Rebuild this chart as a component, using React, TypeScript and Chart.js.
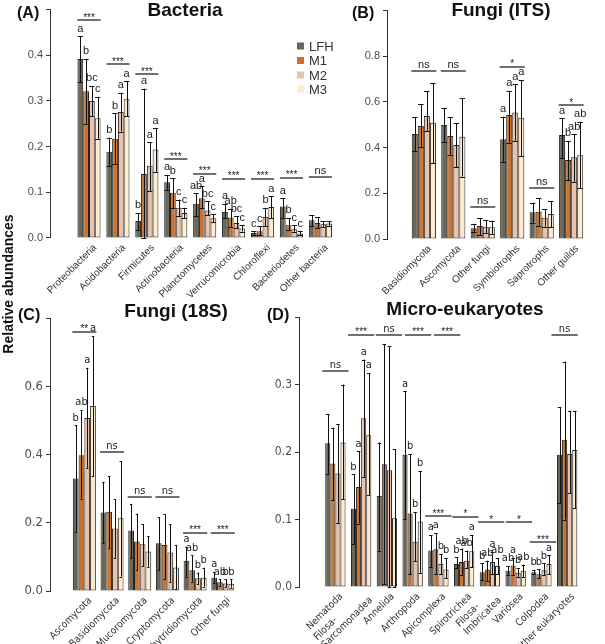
import { useEffect, useRef } from 'react';
import { Chart, registerables } from 'chart.js';
Chart.register(...registerables);

const SERIES = ['LFH', 'M1', 'M2', 'M3'];
const COLORS = ['#6b6656', '#c8742f', '#ecc1a9', '#fdeccd'];

// ---------- (A) Bacteria ----------
const bacteriaGroups = ['Proteobacteria', 'Acidobacteria', 'Firmicutes', 'Actinobacteria', 'Planctomycetes', 'Verrucomicrobia', 'Chloroflexi', 'Bacteriodetes', 'Other bacteria'];
const bacteriaMean = [
  [0.392, 0.321, 0.300, 0.262],
  [0.189, 0.217, 0.276, 0.304],
  [0.037, 0.140, 0.158, 0.194],
  [0.122, 0.099, 0.066, 0.055],
  [0.075, 0.087, 0.060, 0.043],
  [0.057, 0.045, 0.033, 0.021],
  [0.011, 0.015, 0.046, 0.068],
  [0.069, 0.028, 0.019, 0.010],
  [0.039, 0.033, 0.030, 0.032],
];
const bacteriaUpper = [
  [0.442, 0.392, 0.333, 0.309],
  [0.220, 0.273, 0.318, 0.343],
  [0.055, 0.327, 0.210, 0.240],
  [0.138, 0.131, 0.084, 0.066],
  [0.098, 0.113, 0.081, 0.052],
  [0.075, 0.064, 0.048, 0.028],
  [0.015, 0.026, 0.066, 0.091],
  [0.087, 0.044, 0.028, 0.015],
  [0.050, 0.046, 0.037, 0.037],
];
const bacteriaLower = [
  [0.341, 0.249, 0.266, 0.217],
  [0.158, 0.163, 0.233, 0.266],
  [0.017, 0.000, 0.102, 0.145],
  [0.104, 0.066, 0.048, 0.044],
  [0.048, 0.066, 0.050, 0.035],
  [0.043, 0.024, 0.021, 0.014],
  [0.007, 0.006, 0.026, 0.043],
  [0.043, 0.017, 0.014, 0.006],
  [0.026, 0.022, 0.024, 0.027],
];
const bacteriaLetters = [
  ['a', 'b', 'bc', 'c'],
  ['b', 'b', 'a', 'a'],
  ['b', 'a', 'a', 'a'],
  ['a', 'b', 'c', 'c'],
  ['ab', 'a', 'bc', 'c'],
  ['a', 'ab', 'bc', 'c'],
  ['c', 'c', 'b', 'a'],
  ['a', 'b', 'c', 'c'],
  ['', '', '', ''],
];
const bacteriaSigAt = [0, 1, 2, 3, 4, 5, 6, 7, 8];
const bacteriaSigLevel = [0.477, 0.380, 0.358, 0.172, 0.141, 0.130, 0.130, 0.132, 0.134];
const bacteriaSigText = ['***', '***', '***', '***', '***', '***', '***', '***', 'ns'];
const bacteriaTicks = [0, 0.1, 0.2, 0.3, 0.4, 0.5];

// ---------- (B) Fungi (ITS) ----------
const itsGroups = ['Basidiomycota', 'Ascomycota', 'Other fungi', 'Symbiotrophs', 'Saprotrophs', 'Other guilds'];
const itsMean = [
  [0.460, 0.495, 0.538, 0.509],
  [0.499, 0.451, 0.411, 0.448],
  [0.047, 0.057, 0.054, 0.051],
  [0.436, 0.543, 0.554, 0.531],
  [0.117, 0.119, 0.093, 0.109],
  [0.455, 0.346, 0.358, 0.366],
];
const itsUpper = [
  [0.533, 0.589, 0.648, 0.681],
  [0.572, 0.533, 0.506, 0.616],
  [0.066, 0.091, 0.083, 0.080],
  [0.535, 0.649, 0.677, 0.696],
  [0.159, 0.178, 0.130, 0.166],
  [0.528, 0.430, 0.458, 0.513],
];
const itsLower = [
  [0.385, 0.404, 0.473, 0.331],
  [0.426, 0.368, 0.314, 0.273],
  [0.032, 0.018, 0.025, 0.020],
  [0.338, 0.421, 0.430, 0.363],
  [0.071, 0.058, 0.054, 0.051],
  [0.353, 0.258, 0.251, 0.222],
];
const itsLetters = [
  ['', '', '', ''],
  ['', '', '', ''],
  ['', '', '', ''],
  ['a', 'a', 'a', 'a'],
  ['', '', '', ''],
  ['a', 'b', 'ab', 'ab'],
];
const itsSigAt = [0, 1, 2, 3, 4, 5];
const itsSigLevel = [0.735, 0.735, 0.139, 0.754, 0.225, 0.586];
const itsSigText = ['ns', 'ns', 'ns', '*', 'ns', '*'];
const itsTicks = [0, 0.2, 0.4, 0.6, 0.8, 1.0];

// ---------- (C) Fungi (18S) ----------
const f18Groups = ['Ascomycota', 'Basidiomycota', 'Mucoromycota', 'Cryptomycota', 'Chytridiomycota', 'Other fungi'];
const f18Mean = [
  [0.330, 0.398, 0.507, 0.542],
  [0.230, 0.232, 0.183, 0.213],
  [0.177, 0.145, 0.137, 0.116],
  [0.140, 0.135, 0.113, 0.069],
  [0.089, 0.061, 0.037, 0.039],
  [0.039, 0.026, 0.022, 0.021],
];
const f18Upper = [
  [0.486, 0.530, 0.654, 0.747],
  [0.320, 0.337, 0.269, 0.380],
  [0.255, 0.227, 0.195, 0.161],
  [0.216, 0.225, 0.196, 0.135],
  [0.130, 0.105, 0.054, 0.068],
  [0.056, 0.034, 0.034, 0.034],
];
const f18Lower = [
  [0.174, 0.271, 0.361, 0.337],
  [0.141, 0.127, 0.097, 0.042],
  [0.096, 0.061, 0.073, 0.071],
  [0.061, 0.034, 0.027, 0.005],
  [0.042, 0.027, 0.020, 0.013],
  [0.024, 0.015, 0.012, 0.010],
];
const f18Letters = [
  ['b', 'ab', 'a', 'a'],
  ['', '', '', ''],
  ['', '', '', ''],
  ['', '', '', ''],
  ['a', 'ab', 'b', 'b'],
  ['a', 'ab', 'b', 'b'],
];
const f18SigAt = [0, 1, 2, 3, 4, 5];
const f18SigLevel = [0.759, 0.408, 0.274, 0.274, 0.171, 0.171];
const f18SigText = ['**', 'ns', 'ns', 'ns', '***', '***'];
const f18Ticks = [0, 0.2, 0.4, 0.6, 0.8];

// ---------- (D) Micro-eukaryotes ----------
const eukGroups = ['Nematoda', 'Filosa-\nSarcomonadea', 'Annelida', 'Arthropoda', 'Apicomplexa', 'Spirotrichea', 'Filosa-\nImbricatea', 'Variosea', 'Colpodea', 'Other eukaryotes'];
const eukMean = [
  [0.213, 0.183, 0.168, 0.214],
  [0.116, 0.148, 0.250, 0.225],
  [0.135, 0.182, 0.173, 0.102],
  [0.196, 0.109, 0.067, 0.097],
  [0.054, 0.056, 0.034, 0.026],
  [0.034, 0.037, 0.039, 0.053],
  [0.022, 0.026, 0.037, 0.031],
  [0.024, 0.032, 0.021, 0.024],
  [0.022, 0.019, 0.025, 0.034],
  [0.196, 0.218, 0.197, 0.203],
];
const eukUpper = [
  [0.256, 0.236, 0.241, 0.300],
  [0.167, 0.201, 0.337, 0.317],
  [0.214, 0.360, 0.357, 0.204],
  [0.290, 0.197, 0.111, 0.172],
  [0.077, 0.080, 0.049, 0.043],
  [0.044, 0.057, 0.054, 0.077],
  [0.035, 0.039, 0.052, 0.043],
  [0.031, 0.043, 0.028, 0.033],
  [0.025, 0.026, 0.035, 0.047],
  [0.266, 0.334, 0.261, 0.261],
];
const eukLower = [
  [0.168, 0.129, 0.095, 0.130],
  [0.063, 0.094, 0.163, 0.136],
  [0.054, 0.004, 0.000, 0.000],
  [0.101, 0.019, 0.038, 0.021],
  [0.030, 0.019, 0.019, 0.013],
  [0.028, 0.018, 0.028, 0.029],
  [0.010, 0.009, 0.019, 0.019],
  [0.018, 0.018, 0.015, 0.015],
  [0.019, 0.013, 0.018, 0.019],
  [0.125, 0.100, 0.139, 0.117],
];
const eukLetters = [
  ['', '', '', ''],
  ['b', 'a', 'a', 'a'],
  ['', '', '', ''],
  ['a', 'b', 'b', 'b'],
  ['a', 'a', 'b', 'b'],
  ['b', 'ab', 'ab', 'a'],
  ['b', 'ab', 'a', 'ab'],
  ['ab', 'a', 'b', 'ab'],
  ['b', 'b', 'b', 'a'],
  ['', '', '', ''],
];
const eukSigAt = [0, 1, 2.08, 3.21, 4.34, 4, 5.05, 6.05, 7.13, 8.06, 8.9];
const eukSigLevel = [0.320, 0.374, 0.374, 0.374, 0.374, 0.105, 0.104, 0.096, 0.096, 0.066, 0.373];
const eukSigText = ['ns', '***', 'ns', '***', '***', '***', '*', '*', '*', '***', 'ns'];
const eukTicks = [0, 0.1, 0.2, 0.3, 0.4];

const SANS = '"Liberation Sans", Arial, sans-serif';
const NARROW = '"Liberation Sans Narrow", "DejaVu Sans Condensed", "Liberation Sans", sans-serif';

type Panel = {
  key: string;
  groups: string[];
  mean: number[][];
  upper: number[][];
  lower: number[][];
  letters: string[][];
  sigAt: number[];
  sigLevel: number[];
  sigText: string[];
  ticks: number[];
  area: { l: number; t: number; r: number; b: number };
  xMin: number;
  xMax: number;
  catPct: number;
  capFrac: number;
  sigWidth: number;
  tickFont: string;
  tickSize: number;
  labelFont: string;
  title: string;
  titlePos: [number, number];
  tag: string;
  tagPos: [number, number];
  extra?: (ctx: CanvasRenderingContext2D) => void;
};

function drawLegend(ctx: CanvasRenderingContext2D) {
  const ys = [46, 60.5, 75, 89];
  ctx.font = '13px ' + SANS;
  ctx.textAlign = 'left';
  ctx.textBaseline = 'middle';
  SERIES.forEach((s, i) => {
    ctx.fillStyle = COLORS[i];
    ctx.fillRect(297, ys[i] - 3.5, 7, 7);
    ctx.fillStyle = '#333';
    ctx.fillText(s, 309, ys[i] + 1);
  });
}

function drawYTitle(ctx: CanvasRenderingContext2D) {
  ctx.save();
  ctx.translate(9, 284);
  ctx.rotate(-Math.PI / 2);
  ctx.font = 'bold 14px ' + SANS;
  ctx.fillStyle = '#111';
  ctx.textAlign = 'center';
  ctx.textBaseline = 'middle';
  ctx.fillText('Relative abundances', 0, 0);
  ctx.restore();
}

function annotPlugin(p: Panel) {
  return {
    id: 'annot_' + p.key,
    afterDatasetsDraw(chart: any) {
      const ctx: CanvasRenderingContext2D = chart.ctx;
      const xs = chart.scales.x;
      const ys = chart.scales.y;
      const area = chart.chartArea;
      ctx.save();
      const hl = (x1: number, x2: number, y: number) => {
        const yy = Math.round(y) + 0.5;
        ctx.beginPath();
        ctx.moveTo(x1, yy);
        ctx.lineTo(x2, yy);
        ctx.stroke();
      };
      const vl = (x: number, y1: number, y2: number) => {
        const xx = Math.round(x) + 0.5;
        ctx.beginPath();
        ctx.moveTo(xx, y1);
        ctx.lineTo(xx, y2);
        ctx.stroke();
      };
      // error bars
      ctx.strokeStyle = '#111';
      ctx.lineWidth = 1;
      const letterSpots: { t: string; x: number; y: number }[] = [];
      for (let si = 0; si < SERIES.length; si++) {
        const meta = chart.getDatasetMeta(si);
        meta.data.forEach((bar: any, gi: number) => {
          const cx = bar.x;
          const w = bar.width;
          const cw = w * p.capFrac;
          const yh = ys.getPixelForValue(p.upper[gi][si]);
          const yl = ys.getPixelForValue(p.lower[gi][si]);
          vl(cx, yl, yh);
          hl(cx - cw / 2, cx + cw / 2, yh);
          hl(cx - cw / 2, cx + cw / 2, yl);
          const t = p.letters[gi][si];
          if (t) letterSpots.push({ t, x: cx, y: yh - 2 });
        });
      }
      ctx.fillStyle = '#222';
      ctx.font = '11px ' + p.labelFont;
      ctx.textAlign = 'center';
      ctx.textBaseline = 'bottom';
      letterSpots.forEach((l) => ctx.fillText(l.t, l.x, l.y));

      // significance lines
      ctx.lineWidth = 1.3;
      ctx.strokeStyle = '#222';
      p.sigAt.forEach((c, i) => {
        const x1 = xs.getPixelForValue(c - p.sigWidth / 2);
        const x2 = xs.getPixelForValue(c + p.sigWidth / 2);
        const y = ys.getPixelForValue(p.sigLevel[i]);
        ctx.beginPath();
        ctx.moveTo(x1, Math.round(y));
        ctx.lineTo(x2, Math.round(y));
        ctx.stroke();
        const txt = p.sigText[i];
        ctx.fillStyle = '#222';
        ctx.textAlign = 'center';
        ctx.textBaseline = 'alphabetic';
        if (txt === 'ns') {
          ctx.font = '11px ' + p.labelFont;
          ctx.fillText(txt, (x1 + x2) / 2, y - 3);
        } else {
          ctx.font = '10px ' + SANS;
          ctx.fillText(txt, (x1 + x2) / 2, y + 0.5);
        }
      });

      // category labels
      ctx.fillStyle = '#333';
      ctx.font = '10px ' + p.labelFont;
      p.groups.forEach((g, gi) => {
        const ax = xs.getPixelForValue(gi) + 6;
        const ay = area.bottom + 8;
        const lines = g.split('\n');
        ctx.save();
        ctx.translate(ax, ay);
        ctx.rotate(-Math.PI / 4);
        ctx.textBaseline = 'middle';
        if (lines.length === 1) {
          ctx.textAlign = 'right';
          ctx.fillText(g, 0, 0);
        } else {
          const W = Math.max(...lines.map((l) => ctx.measureText(l).width));
          ctx.textAlign = 'left';
          lines.forEach((l, k) => ctx.fillText(l, -W, (k - (lines.length - 1) / 2) * 11));
        }
        ctx.restore();
      });

      // title + tag
      ctx.fillStyle = '#111';
      ctx.font = 'bold 19px ' + SANS;
      ctx.textAlign = 'center';
      ctx.textBaseline = 'middle';
      ctx.fillText(p.title, p.titlePos[0], p.titlePos[1]);
      ctx.font = 'bold 16px ' + SANS;
      ctx.textAlign = 'left';
      ctx.fillText(p.tag, p.tagPos[0], p.tagPos[1]);
      if (p.extra) p.extra(ctx);
      ctx.restore();
    },
  };
}

function makeConfig(p: Panel): any {
  const yMax = p.ticks[p.ticks.length - 1];
  const step = p.ticks[1] - p.ticks[0];
  return {
    type: 'bar',
    data: {
      datasets: SERIES.map((s, si) => ({
        label: s,
        data: p.groups.map((_, gi) => ({ x: gi, y: p.mean[gi][si] })),
        backgroundColor: COLORS[si],
        borderColor: '#222',
        borderWidth: 1,
        borderSkipped: false,
        categoryPercentage: p.catPct,
        barPercentage: 1,
      })),
    },
    options: {
      responsive: false,
      animation: false,
      devicePixelRatio: 1,
      events: [],
      layout: { padding: { left: p.area.l - 40, top: p.area.t, right: 605 - p.area.r, bottom: 644 - p.area.b } },
      plugins: { legend: { display: false }, tooltip: { enabled: false } },
      scales: {
        x: { type: 'linear', display: false, min: p.xMin, max: p.xMax, ticks: { stepSize: 1, includeBounds: false } },
        y: {
          type: 'linear',
          min: 0,
          max: yMax,
          afterFit: (s: any) => { s.width = 40; },
          afterBuildTicks: (s: any) => { s.ticks = p.ticks.map((v) => ({ value: v })); },
          ticks: {
            stepSize: step,
            color: '#4d4d4d',
            font: { size: p.tickSize, family: p.tickFont },
            padding: 3,
            callback: (v: any, i: number, arr: any[]) => (i === arr.length - 1 ? '' : Number(v).toFixed(1)),
          },
          grid: { drawOnChartArea: false, drawTicks: true, tickLength: 4, color: '#333', lineWidth: 1 },
          border: { display: true, color: '#333', width: 1 },
        },
      },
    },
    plugins: [annotPlugin(p)],
  };
}

const PANELS: Panel[] = [
  {
    key: 'A', groups: bacteriaGroups, mean: bacteriaMean, upper: bacteriaUpper, lower: bacteriaLower, letters: bacteriaLetters,
    sigAt: bacteriaSigAt, sigLevel: bacteriaSigLevel, sigText: bacteriaSigText, ticks: bacteriaTicks,
    area: { l: 50, t: 6.5, r: 351, b: 238 }, xMin: -0.77, xMax: 8.48, catPct: 0.8, capFrac: 0.9, sigWidth: 0.8,
    tickFont: SANS, tickSize: 11, labelFont: SANS, title: 'Bacteria', titlePos: [185, 11], tag: '(A)', tagPos: [17, 14],
    extra: drawYTitle,
  },
  {
    key: 'B', groups: itsGroups, mean: itsMean, upper: itsUpper, lower: itsLower, letters: itsLetters,
    sigAt: itsSigAt, sigLevel: itsSigLevel, sigText: itsSigText, ticks: itsTicks,
    area: { l: 387, t: 10.5, r: 603, b: 239 }, xMin: -0.64, xMax: 5.47, catPct: 0.82, capFrac: 0.9, sigWidth: 0.85,
    tickFont: SANS, tickSize: 11, labelFont: SANS, title: 'Fungi (ITS)', titlePos: [501, 11], tag: '(B)', tagPos: [352, 14],
    extra: drawLegend,
  },
  {
    key: 'C', groups: f18Groups, mean: f18Mean, upper: f18Upper, lower: f18Lower, letters: f18Letters,
    sigAt: f18SigAt, sigLevel: f18SigLevel, sigText: f18SigText, ticks: f18Ticks,
    area: { l: 50, t: 318, r: 253, b: 591 }, xMin: -0.63, xMax: 5.48, catPct: 0.83, capFrac: 0.4, sigWidth: 0.87,
    tickFont: NARROW, tickSize: 13, labelFont: NARROW, title: 'Fungi (18S)', titlePos: [176, 312], tag: '(C)', tagPos: [18, 316],
  },
  {
    key: 'D', groups: eukGroups, mean: eukMean, upper: eukUpper, lower: eukLower, letters: eukLetters,
    sigAt: eukSigAt, sigLevel: eukSigLevel, sigText: eukSigText, ticks: eukTicks,
    area: { l: 299, t: 317, r: 594, b: 587 }, xMin: -0.84, xMax: 9.47, catPct: 0.79, capFrac: 0.7, sigWidth: 1.02,
    tickFont: NARROW, tickSize: 12, labelFont: NARROW, title: 'Micro-eukaryotes', titlePos: [465, 310], tag: '(D)', tagPos: [267, 316],
  },
];

function PanelCanvas({ panel }: { panel: Panel }) {
  const ref = useRef<HTMLCanvasElement | null>(null);
  useEffect(() => {
    if (!ref.current) return;
    const chart = new Chart(ref.current, makeConfig(panel));
    return () => chart.destroy();
  }, [panel]);
  return (
    <canvas
      ref={ref}
      width={605}
      height={644}
      style={{ position: 'absolute', left: 0, top: 0, width: 605, height: 644 }}
    />
  );
}

export default function App() {
  return (
    <div style={{ position: 'absolute', left: 0, top: 0, width: 605, height: 644, background: '#fff' }}>
      {PANELS.map((p) => (
        <PanelCanvas key={p.key} panel={p} />
      ))}
    </div>
  );
}
